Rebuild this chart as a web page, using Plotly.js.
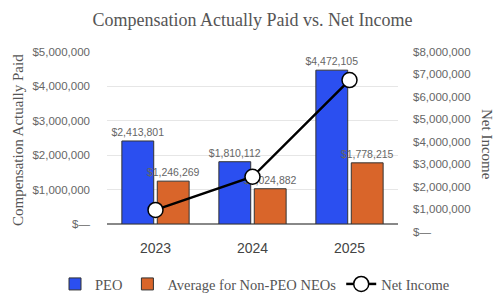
<!DOCTYPE html>
<html>
<head>
<meta charset="utf-8">
<script src="https://cdn.plot.ly/plotly-3.0.1.min.js"></script>
<style>html,body{margin:0;padding:0;background:#fff;}#chart{width:496px;height:294px;}</style>
</head>
<body>
<div id="chart"></div>
<script>
const years = ["2023", "2024", "2025"];
const peo = [2413801, 1810112, 4472105];
const nonPeo = [1246269, 1024882, 1778215];
const netIncome = [980000, 2450000, 6740000];
const leftTicks = [0, 1000000, 2000000, 3000000, 4000000, 5000000];
const leftTickText = ["$\u2014", "$1,000,000", "$2,000,000", "$3,000,000", "$4,000,000", "$5,000,000"];
const rightTicks = [0, 1000000, 2000000, 3000000, 4000000, 5000000, 6000000, 7000000, 8000000];
const rightTickText = ["$\u2014", "$1,000,000", "$2,000,000", "$3,000,000", "$4,000,000", "$5,000,000", "$6,000,000", "$7,000,000", "$8,000,000"];

const labelFont = {family: "Arial, Liberation Sans, sans-serif", size: 10.5, color: "#666"};
const serif = "Liberation Serif, Times New Roman, serif";

const traces = [
  {
    type: "bar", name: "PEO", x: years, y: peo,
    marker: {color: "#2b4ff0", line: {color: "#333", width: 1}},
    texttemplate: "$%{y:,}", textposition: "outside", textfont: labelFont,
    constraintext: "none", cliponaxis: false, hoverinfo: "skip"
  },
  {
    type: "bar", name: "Average for Non-PEO NEOs", x: years, y: nonPeo,
    marker: {color: "#d9652a", line: {color: "#333", width: 1}},
    texttemplate: "$%{y:,}", textposition: "outside", textfont: labelFont,
    constraintext: "none", cliponaxis: false, hoverinfo: "skip"
  },
  {
    type: "scatter", mode: "lines+markers", name: "Net Income", x: years, y: netIncome,
    yaxis: "y2", line: {color: "#000", width: 2.5},
    marker: {symbol: "circle", size: 15, color: "#fff", line: {color: "#000", width: 1.5}},
    cliponaxis: false, hoverinfo: "skip"
  }
];

const L = 40, W = 416, H = 182;
const px = (p) => (p - L) / W;
const py = (p) => (232 - p) / H;
const layout = {
  width: 496, height: 294,
  margin: {l: L, r: 496 - L - W, t: 50, b: 62, autoexpand: false},
  paper_bgcolor: "#fff", plot_bgcolor: "rgba(0,0,0,0)",
  showlegend: true,
  barmode: "group", bargap: 0.27, bargroupgap: 0.1,
  title: {
    text: "Compensation Actually Paid vs. Net Income",
    font: {family: serif, size: 18, color: "#555"},
    x: px(252.5), xref: "paper", xanchor: "center",
    y: 1 - 20 / 294, yref: "container", yanchor: "middle"
  },
  xaxis: {
    type: "category", anchor: "y", range: [-0.5, 2.5],
    domain: [px(107), px(398)],
    showgrid: false, showline: false, ticks: "",
    tickfont: {family: "Arial, Liberation Sans, sans-serif", size: 14, color: "#444"},
    ticklabelstandoff: 14
  },
  yaxis: {
    domain: [py(224), py(52)],
    range: [0, 5000000], anchor: "x",
    tickvals: leftTicks, ticktext: leftTickText,
    tickfont: {family: "Arial, Liberation Sans, sans-serif", size: 11.5, color: "#666"},
    showgrid: true, gridcolor: "#e6e6e6", gridwidth: 1,
    zeroline: true, zerolinecolor: "#888", zerolinewidth: 1.5,
    showline: false, ticks: "", ticklabelstandoff: 16
  },
  yaxis2: {
    domain: [py(232), py(51.7)],
    range: [0, 8000000], anchor: "x", side: "right",
    tickvals: rightTicks, ticktext: rightTickText,
    tickfont: {family: "Arial, Liberation Sans, sans-serif", size: 11.5, color: "#666"},
    showgrid: false, zeroline: false, showline: false, ticks: "", ticklabelstandoff: 14
  },
  legend: {
    orientation: "h", x: px(255), xanchor: "center", xref: "paper",
    y: py(284), yanchor: "middle",
    font: {family: serif, size: 14.5, color: "#555"},
    traceorder: "normal", itemwidth: 30
  },
  annotations: [
    {
      text: "Compensation Actually Paid", textangle: -90, showarrow: false,
      xref: "paper", yref: "paper", x: px(18), y: py(140),
      xanchor: "center", yanchor: "middle",
      font: {family: serif, size: 15, color: "#555"}
    },
    {
      text: "Net Income", textangle: 90, showarrow: false,
      xref: "paper", yref: "paper", x: px(487), y: py(144),
      xanchor: "center", yanchor: "middle",
      font: {family: serif, size: 15, color: "#555"}
    }
  ]
};

Plotly.newPlot("chart", traces, layout, {staticPlot: true, displayModeBar: false});
</script>
</body>
</html>
